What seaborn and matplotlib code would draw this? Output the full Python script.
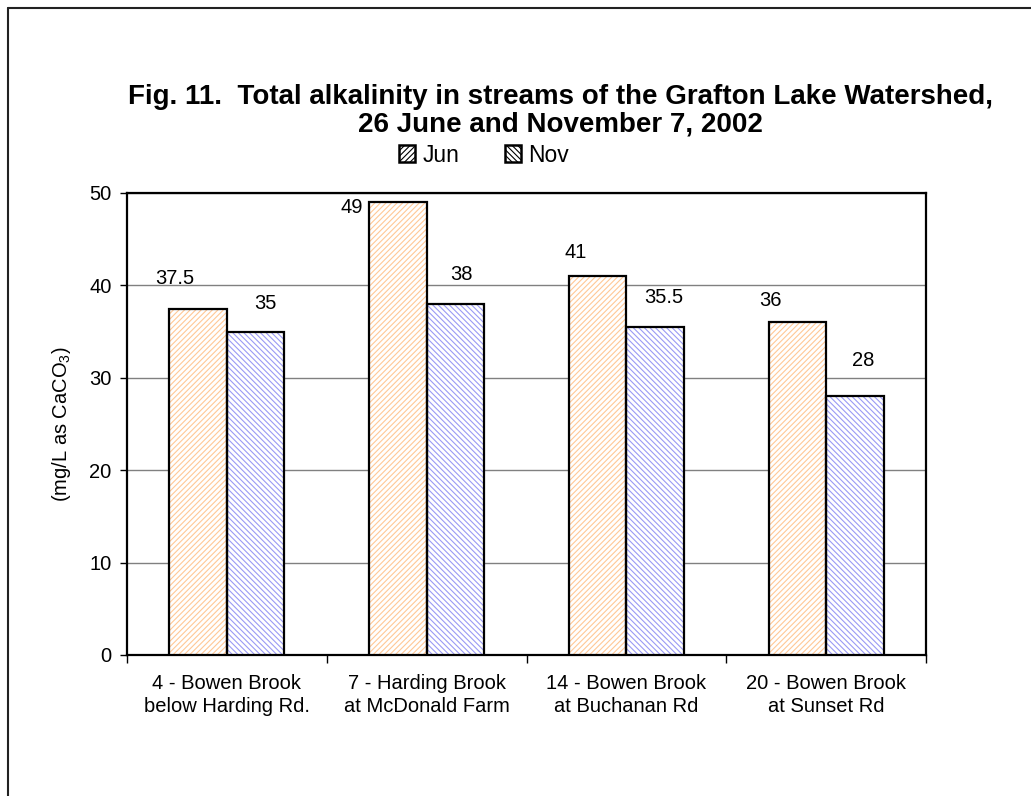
import matplotlib
matplotlib.use("Agg")
import matplotlib.pyplot as plt
import seaborn as sns
import pandas as pd
from matplotlib.patches import Rectangle, Patch
from matplotlib.lines import Line2D

# ---- data ----
sites = ["4 - Bowen Brook\nbelow Harding Rd.",
         "7 - Harding Brook\nat McDonald Farm",
         "14 - Bowen Brook\nat Buchanan Rd",
         "20 - Bowen Brook\nat Sunset Rd"]
series = ["Jun", "Nov"]
jun = [37.5, 49, 41, 36]
nov = [35, 38, 35.5, 28]
yticks = [0, 10, 20, 30, 40, 50]
title = ("Fig. 11.  Total alkalinity in streams of the Grafton Lake Watershed,\n"
         "26 June and November 7, 2002")
ylabel = "(mg/L as CaCO$_3$)"

# ---- style ----
sns.set_theme(style="white")
plt.rcParams['font.family'] = ['Liberation Sans', 'DejaVu Sans']
plt.rcParams['mathtext.fontset'] = 'custom'
plt.rcParams['mathtext.rm'] = 'Liberation Sans'
plt.rcParams['hatch.linewidth'] = 0.8
for k in ["text.color", "axes.labelcolor", "xtick.color", "ytick.color"]:
    plt.rcParams[k] = "black"

hatch_col = {"Jun": "#FFC896", "Nov": "#9A9AF5"}
hatch_pat = {"Jun": "//////", "Nov": "\\\\\\\\\\\\"}

df = pd.DataFrame({
    "site": sites * 2,
    "month": ["Jun"] * len(sites) + ["Nov"] * len(sites),
    "value": jun + nov,
})

W, H = 1031, 796
fig = plt.figure(figsize=(W / 100, H / 100), dpi=100)
ax = fig.add_axes([127 / W, 1 - 655 / H, (926 - 127) / W, (655 - 193) / H])

sns.barplot(data=df, x="site", y="value", hue="month", order=sites,
            hue_order=series, palette=["white", "white"], width=0.576,
            gap=0, errorbar=None, legend=False, ax=ax, zorder=3)

n = len(sites)
bars = list(ax.patches)[:2 * n]
for i, p in enumerate(bars):
    m = series[i // n]
    p.set_facecolor("white")
    p.set_edgecolor(hatch_col[m])
    p.set_hatch(hatch_pat[m])
    p.set_linewidth(0)
    ax.add_patch(Rectangle((p.get_x(), p.get_y()), p.get_width(), p.get_height(),
                           fill=False, edgecolor="black", linewidth=1.6, zorder=4))

# value labels (offset in points from bar top centre, as placed in the original)
offsets = {
    "Jun": [(-17, 21.5), (-33, -4), (-16, 17), (-19.5, 16)],
    "Nov": [(7, 20), (4.5, 21.5), (6.5, 21), (6, 26)],
}
vals = {"Jun": jun, "Nov": nov}
for i, p in enumerate(bars):
    m = series[i // n]
    k = i % n
    v = vals[m][k]
    ax.annotate(f"{v:g}", (p.get_x() + p.get_width() / 2, p.get_height()),
                xytext=offsets[m][k], textcoords="offset points",
                ha="center", va="center", fontsize=14.5, color="black", zorder=5)

ax.set_ylim(0, 50)
ax.set_xlim(-0.5, n - 0.5)
ax.set_yticks(yticks)
ax.set_yticklabels([str(t) for t in yticks])
ax.yaxis.grid(True, color="#808080", linewidth=1.0, zorder=0)
ax.set_axisbelow(True)
ax.set_xticks(range(n))
ax.set_xticklabels(sites, linespacing=1.25)
ax.set_xticks([x - 0.5 for x in range(n + 1)], minor=True)
ax.tick_params(axis="x", which="major", length=0, pad=14, labelsize=14.5)
ax.tick_params(axis="x", which="minor", length=6, width=1, color="black", direction="out", bottom=True)
ax.tick_params(axis="y", length=5, width=1, color="black", direction="out", left=True,
               labelsize=14.5, pad=6)
ax.set_xlabel("")
ax.set_ylabel(ylabel, fontsize=14.5, labelpad=12)
for s in ax.spines.values():
    s.set_visible(True)
    s.set_color("black")
    s.set_linewidth(1.6)

# title
fig.text(560 / W, 1 - 111 / H, title, ha="center", va="center", fontsize=20,
         fontweight="bold", linespacing=1.05)

# legend
handles = [Patch(facecolor="white", edgecolor=hatch_col[m], hatch=hatch_pat[m],
                 linewidth=0) for m in series]
leg = fig.legend(handles, series, loc="center", bbox_to_anchor=(484 / W, 1 - 155 / H),
                 ncol=2, frameon=False, fontsize=16.5, handlelength=0.7, handleheight=0.7,
                 handletextpad=0.3, columnspacing=2.0)
for h in leg.legend_handles:
    h.set_edgecolor("black")
    h.set_linewidth(1.8)

# outer frame
fig.add_artist(Line2D([7.5 / W, 7.5 / W], [0, 1 - 8 / H], transform=fig.transFigure,
                      color="#222222", linewidth=1.5))
fig.add_artist(Line2D([7.5 / W, 1], [1 - 8 / H, 1 - 8 / H], transform=fig.transFigure,
                      color="#222222", linewidth=1.5))

fig.savefig("out.png", dpi=100)
